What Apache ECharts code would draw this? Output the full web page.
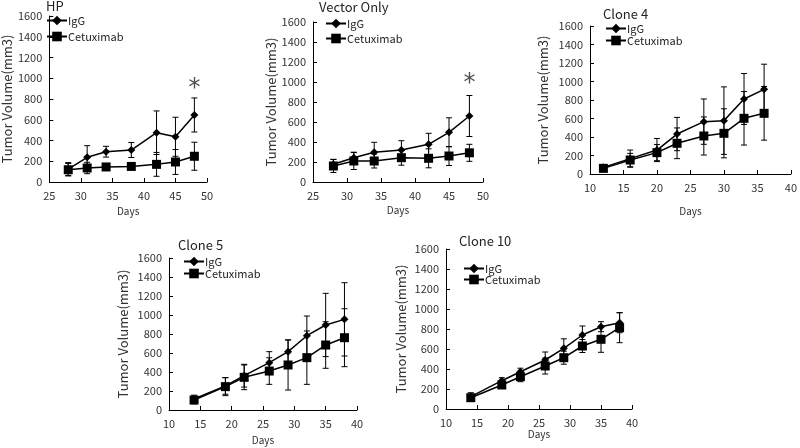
<!DOCTYPE html>
<html>
<head>
<meta charset="utf-8">
<script src="https://cdn.jsdelivr.net/npm/echarts@6/dist/echarts.min.js"></script>
<style>
  html, body { margin: 0; padding: 0; background: #fff; }
  #chart { width: 800px; height: 448px; }
</style>
</head>
<body>
<div id="chart"></div>
<script>
// panel titles
var titles = ['HP', 'Vector Only', 'Clone 4', 'Clone 5', 'Clone 10'];
var seriesNames = ['IgG', 'Cetuximab'];
var yTicks = [0, 200, 400, 600, 800, 1000, 1200, 1400, 1600];

// HP
var hpDays = [28, 31, 34, 38, 42, 45, 48];
var hpIgG = [125, 238, 292, 308, 475, 436, 646];
var hpIgGErr = [62, 112, 52, 72, 210, 188, 164];
var hpCet = [118, 135, 145, 150, 170, 193, 248];
var hpCetErr = [60, 55, 15, 30, 115, 120, 135];
var hpStar = [48, 900];

// Vector Only
var vecDays = [28, 31, 34, 38, 42, 45, 48];
var vecIgG = [177, 243, 297, 320, 377, 497, 660];
var vecIgGErr = [50, 55, 100, 93, 110, 145, 205];
var vecCet = [160, 210, 210, 243, 237, 260, 292];
var vecCetErr = [65, 85, 70, 75, 95, 95, 85];
var vecStar = [48, 985];

// Clone 4
var c4Days = [12, 16, 20, 23, 27, 30, 33, 36];
var c4IgG = [72, 166, 259, 432, 566, 577, 811, 915];
var c4IgGErr = [20, 93, 125, 180, 245, 365, 275, 272];
var c4Cet = [61, 151, 231, 332, 411, 440, 602, 656];
var c4CetErr = [20, 72, 87, 166, 206, 265, 289, 290];

// Clone 5
var c5Days = [14, 19, 22, 26, 29, 32, 35, 38];
var c5IgG = [116, 253, 361, 498, 614, 782, 895, 954];
var c5IgGErr = [40, 87, 120, 116, 123, 207, 333, 386];
var c5Cet = [105, 246, 344, 410, 474, 551, 684, 761];
var c5CetErr = [40, 95, 130, 140, 264, 281, 245, 305];

// Clone 10
var c10Days = [14, 19, 22, 26, 29, 32, 35, 38];
var c10IgG = [123, 283, 373, 490, 607, 740, 823, 863];
var c10IgGErr = [40, 30, 35, 80, 95, 90, 50, 100];
var c10Cet = [113, 240, 323, 430, 513, 630, 697, 813];
var c10CetErr = [30, 30, 50, 80, 65, 65, 130, 150];

var panels = [
  { days: hpDays, igg: hpIgG, iggErr: hpIgGErr, cet: hpCet, cetErr: hpCetErr, star: hpStar, xmin: 25, xmax: 50,
    grid: { left: 39, top: 16, width: 168, height: 166 }, title: [46, 0], legend: [46, 15, 5], yGap: 31, xGap: 24 },
  { days: vecDays, igg: vecIgG, iggErr: vecIgGErr, cet: vecCet, cetErr: vecCetErr, star: vecStar, xmin: 25, xmax: 50,
    grid: { left: 313, top: 22, width: 170, height: 160 }, title: [319, 1], legend: [325, 18, 4], yGap: 35, xGap: 23 },
  { days: c4Days, igg: c4IgG, iggErr: c4IgGErr, cet: c4Cet, cetErr: c4CetErr, xmin: 10, xmax: 40,
    grid: { left: 590, top: 26, width: 201, height: 148 }, title: [603, 8], legend: [605, 23, 1], yGap: 40, xGap: 32 },
  { days: c5Days, igg: c5IgG, iggErr: c5IgGErr, cet: c5Cet, cetErr: c5CetErr, xmin: 10, xmax: 40,
    grid: { left: 169, top: 258, width: 188, height: 152 }, title: [178, 239], legend: [183, 256, 1], yGap: 39, xGap: 25 },
  { days: c10Days, igg: c10IgG, iggErr: c10IgGErr, cet: c10Cet, cetErr: c10CetErr, xmin: 10, xmax: 40,
    grid: { left: 446, top: 249, width: 186, height: 160 }, title: [459, 235], legend: [463, 263, 0], yGap: 38, xGap: 19 }
];

var font = '"Noto Sans CJK JP", "Noto Sans", sans-serif';

function errorBars(params, api) {
  var x = api.value(0), y = api.value(1), e = api.value(2);
  var hi = api.coord([x, y + e]);
  var lo = api.coord([x, y - e]);
  var w = 3;
  var st = { stroke: '#000', lineWidth: 1 };
  return {
    type: 'group',
    children: [
      { type: 'line', shape: { x1: hi[0], y1: hi[1], x2: lo[0], y2: lo[1] }, style: st },
      { type: 'line', shape: { x1: hi[0] - w, y1: hi[1], x2: hi[0] + w, y2: hi[1] }, style: st },
      { type: 'line', shape: { x1: lo[0] - w, y1: lo[1], x2: lo[0] + w, y2: lo[1] }, style: st }
    ]
  };
}

function zip(a, b) { return a.map(function (v, i) { return [v, b[i]]; }); }
function zip3(a, b, c) { return a.map(function (v, i) { return [v, b[i], c[i]]; }); }

var option = {
  animation: false,
  backgroundColor: '#fff',
  textStyle: { fontFamily: font },
  title: [], legend: [], grid: [], xAxis: [], yAxis: [], series: []
};

panels.forEach(function (p, i) {
  option.title.push({
    text: titles[i], left: p.title[0], top: p.title[1], padding: 0,
    textStyle: { fontSize: 13, fontWeight: 'normal', color: '#222', fontFamily: font }
  });
  option.legend.push({
    left: p.legend[0], top: p.legend[1], orient: 'vertical', padding: 0,
    itemWidth: 20, itemHeight: 12, itemGap: p.legend[2], selectedMode: false,
    data: seriesNames,
    textStyle: { fontSize: 11, color: '#222', fontFamily: font, padding: [0, 0, 0, -4] }
  });
  option.grid.push(p.grid);
  option.xAxis.push({
    type: 'value', gridIndex: i, min: p.xmin, max: p.xmax, interval: 5,
    name: 'Days', nameLocation: 'middle', nameGap: p.xGap,
    nameTextStyle: { fontSize: 10, color: '#333', fontFamily: font },
    axisLine: { lineStyle: { color: '#000', width: 1 } },
    axisTick: { inside: true, length: 4, lineStyle: { color: '#000' } },
    axisLabel: { fontSize: 11, color: '#333', margin: 8, fontFamily: font },
    splitLine: { show: false }
  });
  option.yAxis.push({
    type: 'value', gridIndex: i, min: yTicks[0], max: yTicks[yTicks.length - 1], interval: 200,
    name: 'Tumor Volume(mm3)', nameLocation: 'middle', nameGap: p.yGap,
    nameTextStyle: { fontSize: 13, color: '#333', fontFamily: font },
    axisLine: { show: true, lineStyle: { color: '#000', width: 1 } },
    axisTick: { show: true, inside: true, length: 4, lineStyle: { color: '#000' } },
    axisLabel: { fontSize: 11, color: '#333', margin: 7, fontFamily: font,
      formatter: function (v) { return String(v); } },
    splitLine: { show: false }
  });
  option.series.push({
    type: 'custom', xAxisIndex: i, yAxisIndex: i, renderItem: errorBars,
    data: zip3(p.days, p.igg, p.iggErr), z: 1, silent: true
  });
  option.series.push({
    type: 'custom', xAxisIndex: i, yAxisIndex: i, renderItem: errorBars,
    data: zip3(p.days, p.cet, p.cetErr), z: 1, silent: true
  });
  option.series.push({
    name: 'IgG', type: 'line', xAxisIndex: i, yAxisIndex: i,
    data: zip(p.days, p.igg), symbol: 'diamond', symbolSize: 8,
    lineStyle: { color: '#000', width: 1.5 }, itemStyle: { color: '#000' }, z: 3
  });
  option.series.push({
    name: 'Cetuximab', type: 'line', xAxisIndex: i, yAxisIndex: i,
    data: zip(p.days, p.cet), symbol: 'rect', symbolSize: 9,
    lineStyle: { color: '#000', width: 1.5 }, itemStyle: { color: '#000' }, z: 3
  });
  if (p.star) {
    option.series.push({
      type: 'scatter', xAxisIndex: i, yAxisIndex: i, data: [p.star],
      symbolSize: 1, itemStyle: { color: 'transparent' }, silent: true,
      label: { show: true, position: 'inside', formatter: '*', fontSize: 24, color: '#222', fontFamily: 'DejaVu Sans' }
    });
  }
});

var chart = echarts.init(document.getElementById('chart'));
chart.setOption(option);
</script>
</body>
</html>
